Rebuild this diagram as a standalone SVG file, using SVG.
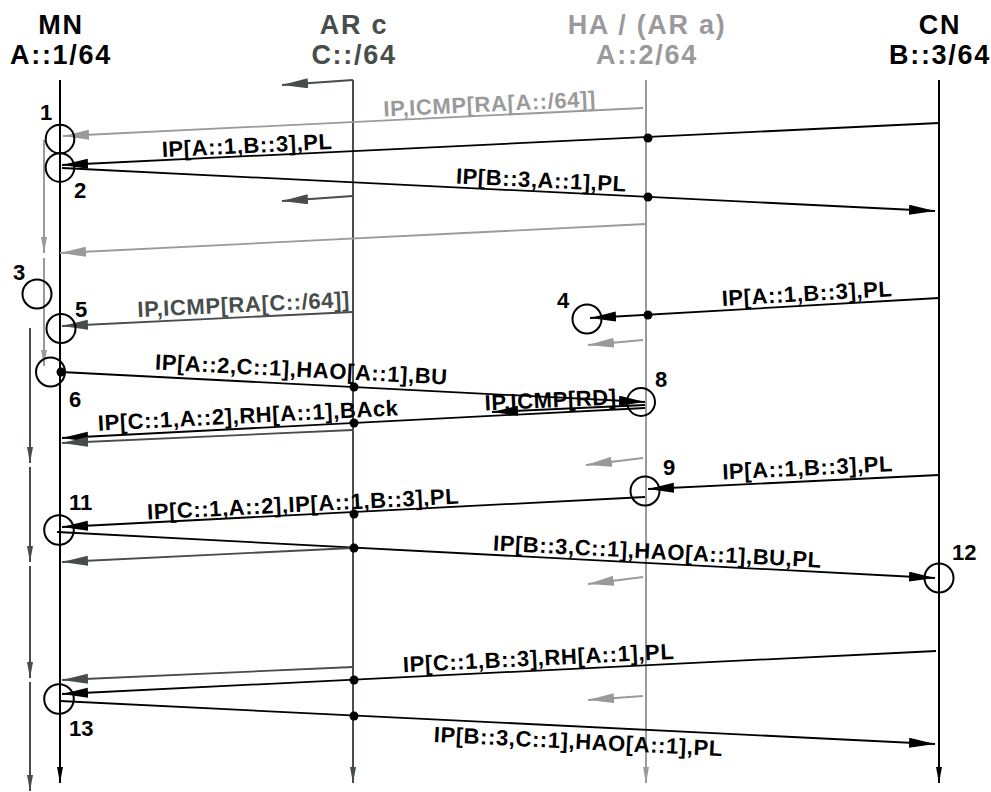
<svg xmlns="http://www.w3.org/2000/svg" width="991" height="792" viewBox="0 0 991 792">
<style>
text{font-family:"Liberation Sans",Arial,sans-serif;font-weight:bold}
.hd{font-size:27px;letter-spacing:1.7px;text-anchor:middle}
.lb{font-size:22px;letter-spacing:0.6px;text-anchor:middle}
.num{font-size:22px}
.k{fill:#000}.d{fill:#464d4a}.g{fill:#9a9a9a}
.ll{stroke-width:2;fill:none}
.m{stroke-width:1.8;fill:none}
.sk{stroke:#000}.sd{stroke:#464d4a}.sg{stroke:#9a9a9a}
.ev{fill:none;stroke:#000;stroke-width:2}
</style>
<defs>
<marker id="ak" markerUnits="userSpaceOnUse" markerWidth="28" markerHeight="12" refX="26" refY="5" orient="auto"><path d="M0,0 L26,5 L0,10 Z" fill="#000"/></marker>
<marker id="ad" markerUnits="userSpaceOnUse" markerWidth="28" markerHeight="12" refX="26" refY="5" orient="auto"><path d="M0,0 L26,5 L0,10 Z" fill="#464d4a"/></marker>
<marker id="ag" markerUnits="userSpaceOnUse" markerWidth="28" markerHeight="12" refX="26" refY="5" orient="auto"><path d="M0,0 L26,5 L0,10 Z" fill="#9a9a9a"/></marker>
<marker id="lk" markerUnits="userSpaceOnUse" markerWidth="18" markerHeight="8" refX="16" refY="3" orient="auto"><path d="M0,0 L16,3 L0,6 Z" fill="#000"/></marker>
<marker id="ld" markerUnits="userSpaceOnUse" markerWidth="18" markerHeight="8" refX="16" refY="3" orient="auto"><path d="M0,0 L16,3 L0,6 Z" fill="#464d4a"/></marker>
<marker id="lg" markerUnits="userSpaceOnUse" markerWidth="18" markerHeight="8" refX="16" refY="3" orient="auto"><path d="M0,0 L16,3 L0,6 Z" fill="#9a9a9a"/></marker>
</defs>

<g id="MN">
<text class="hd k" x="61" y="34">MN</text>
<text class="hd k" x="61" y="64">A::1/64</text>
<line class="ll sk" x1="60" y1="80" x2="60" y2="783" marker-end="url(#lk)"/>
</g>
<g id="ARc">
<text class="hd d" x="354" y="34">AR c</text>
<text class="hd d" x="354" y="64">C::/64</text>
<line class="ll sd" x1="353" y1="80" x2="353" y2="783" marker-end="url(#ld)"/>
</g>
<g id="HA">
<text class="hd g" x="647" y="34">HA / (AR a)</text>
<text class="hd g" x="647" y="64">A::2/64</text>
<line class="ll sg" x1="646" y1="80" x2="646" y2="783" marker-end="url(#lg)"/>
</g>
<g id="CN">
<text class="hd k" x="940" y="34">CN</text>
<text class="hd k" x="940" y="64">B::3/64</text>
<line class="ll sk" x1="939" y1="80" x2="939" y2="783" marker-end="url(#lk)"/>
</g>

<g id="movement">
<line class="ll sg" x1="44" y1="140" x2="44" y2="253" marker-end="url(#lg)"/>
<line class="ll sg" x1="44" y1="258" x2="44" y2="366" marker-end="url(#lg)"/>
<line class="ll sd" x1="30" y1="328" x2="30" y2="463" marker-end="url(#ld)"/>
<line class="ll sd" x1="30" y1="467" x2="30" y2="562" marker-end="url(#ld)"/>
<line class="ll sd" x1="30" y1="566" x2="30" y2="678" marker-end="url(#ld)"/>
<line class="ll sd" x1="30" y1="682" x2="30" y2="791" marker-end="url(#ld)"/>
</g>

<g id="connectors">
<line class="m sd" x1="353" y1="80" x2="282" y2="85" marker-end="url(#ad)"/>
<line class="m sg" x1="643" y1="108" x2="63" y2="136" marker-end="url(#ag)"/>
<line class="m sk" x1="939" y1="123" x2="62" y2="165" marker-end="url(#ak)"/>
<line class="m sk" x1="62" y1="168" x2="935" y2="211" marker-end="url(#ak)"/>
<line class="m sd" x1="353" y1="196" x2="282" y2="201" marker-end="url(#ad)"/>
<line class="m sg" x1="646" y1="224" x2="60" y2="253" marker-end="url(#ag)"/>
<line class="m sd" x1="353" y1="312" x2="62" y2="326" marker-end="url(#ad)"/>
<line class="m sk" x1="939" y1="298" x2="590" y2="318" marker-end="url(#ak)"/>
<line class="m sg" x1="643" y1="340" x2="588" y2="345" marker-end="url(#ag)"/>
<line class="m sk" x1="61" y1="372" x2="645" y2="402" marker-end="url(#ak)"/>
<line class="m sk" x1="645" y1="405" x2="492" y2="412" marker-end="url(#ak)"/>
<line class="m sk" x1="645" y1="408" x2="62" y2="438" marker-end="url(#ak)"/>
<line class="m sd" x1="353" y1="430" x2="62" y2="443" marker-end="url(#ad)"/>
<line class="m sg" x1="643" y1="458" x2="586" y2="465" marker-end="url(#ag)"/>
<line class="m sk" x1="939" y1="475" x2="648" y2="489" marker-end="url(#ak)"/>
<line class="m sk" x1="645" y1="497" x2="62" y2="527" marker-end="url(#ak)"/>
<line class="m sk" x1="57" y1="532" x2="935" y2="578" marker-end="url(#ak)"/>
<line class="m sd" x1="353" y1="548" x2="62" y2="562" marker-end="url(#ad)"/>
<line class="m sg" x1="643" y1="577" x2="588" y2="584" marker-end="url(#ag)"/>
<line class="m sk" x1="936" y1="651" x2="62" y2="694" marker-end="url(#ak)"/>
<line class="m sd" x1="353" y1="667" x2="62" y2="680" marker-end="url(#ad)"/>
<line class="m sg" x1="643" y1="696" x2="588" y2="700" marker-end="url(#ag)"/>
<line class="m sk" x1="60" y1="701" x2="935" y2="744" marker-end="url(#ak)"/>
<g class="k">
<circle cx="648" cy="138" r="4.5"/><circle cx="648" cy="197" r="4.5"/><circle cx="648" cy="315" r="4.5"/>
<circle cx="61" cy="372" r="4.5"/><circle cx="354" cy="387" r="4.5"/><circle cx="354" cy="423" r="4.5"/>
<circle cx="354" cy="514" r="4.5"/><circle cx="354" cy="548" r="4.5"/><circle cx="354" cy="680" r="4.5"/>
<circle cx="354" cy="716" r="4.5"/>
</g>
<text class="lb g" x="490" y="111.5" transform="rotate(-2.76 490 111.5)">IP,ICMP[RA[A::/64]]</text>
<text class="lb k" x="247.5" y="153" transform="rotate(-2.74 247.5 153)">IP[A::1,B::3],PL</text>
<text class="lb k" x="541" y="187.6" transform="rotate(2.82 541 187.6)">IP[B::3,A::1],PL</text>
<text class="lb d" x="244" y="312" transform="rotate(-2.75 244 312)">IP,ICMP[RA[C::/64]]</text>
<text class="lb k" x="807.5" y="301" transform="rotate(-3.28 807.5 301)">IP[A::1,B::3],PL</text>
<text class="lb k" x="301" y="377" transform="rotate(2.94 301 377)">IP[A::2,C::1],HAO[A::1],BU</text>
<text class="lb k" x="551" y="407.5" transform="rotate(-2.6 551 407.5)">IP,ICMP[RD]</text>
<text class="lb k" x="248.5" y="423" transform="rotate(-2.94 248.5 423)">IP[C::1,A::2],RH[A::1],BAck</text>
<text class="lb k" x="808" y="475.3" transform="rotate(-2.75 808 475.3)">IP[A::1,B::3],PL</text>
<text class="lb k" x="303.5" y="511.6" transform="rotate(-2.94 303.5 511.6)">IP[C::1,A::2],IP[A::1,B::3],PL</text>
<text class="lb k" x="657" y="559" transform="rotate(3 657 559)">IP[B::3,C::1],HAO[A::1],BU,PL</text>
<text class="lb k" x="539" y="665.5" transform="rotate(-2.82 539 665.5)">IP[C::1,B::3],RH[A::1],PL</text>
<text class="lb k" x="578" y="749" transform="rotate(2.81 578 749)">IP[B::3,C::1],HAO[A::1],PL</text>
</g>

<g id="events">
<circle class="ev" cx="60" cy="139" r="14.3"/>
<circle class="ev" cx="60" cy="167.5" r="14.3"/>
<circle class="ev" cx="37" cy="294" r="14.5"/>
<circle class="ev" cx="587" cy="319" r="14.5"/>
<circle class="ev" cx="61" cy="328.5" r="14.5"/>
<circle class="ev" cx="50.5" cy="372" r="14.5"/>
<circle class="ev" cx="641" cy="402" r="14"/>
<circle class="ev" cx="645" cy="491" r="14.5"/>
<circle class="ev" cx="59" cy="530" r="14.8"/>
<circle class="ev" cx="939" cy="578" r="14.5"/>
<circle class="ev" cx="59" cy="699" r="14.8"/>
<text class="num k" x="40" y="120">1</text>
<text class="num k" x="74" y="198">2</text>
<text class="num k" x="13" y="280">3</text>
<text class="num k" x="557" y="308">4</text>
<text class="num k" x="75" y="317">5</text>
<text class="num k" x="69" y="407">6</text>
<text class="num k" x="655" y="387">8</text>
<text class="num k" x="663" y="475">9</text>
<text class="num k" x="69" y="510">11</text>
<text class="num k" x="952" y="560">12</text>
<text class="num k" x="69" y="736">13</text>
</g>
</svg>
